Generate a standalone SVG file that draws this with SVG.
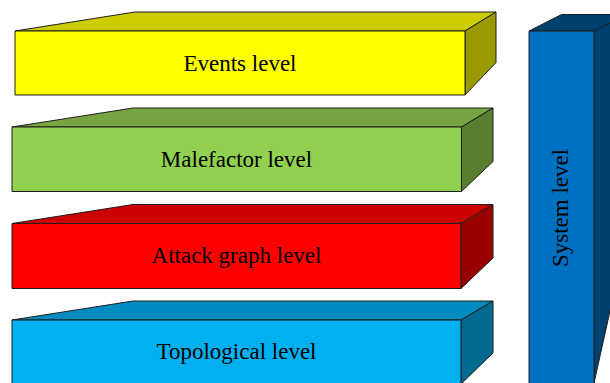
<svg xmlns="http://www.w3.org/2000/svg" width="610" height="383" viewBox="0 0 610 383">
  <style>
    .edge { stroke: #1e1e1e; stroke-width: 1; stroke-linejoin: round; }
    .label { font-family: "Liberation Serif", "Times New Roman", serif; font-size: 23px; fill: #000; text-anchor: middle; }
  </style>
  <rect width="610" height="383" fill="#ffffff"/>

  <!-- Events level -->
  <g id="events">
    <polygon class="edge" points="15,31 135,12 496,12 465,31" fill="#CCCC00"/>
    <polygon class="edge" points="465,31 496,12 496,62.5 465,95" fill="#999900"/>
    <rect class="edge" x="15" y="31" width="450" height="64" fill="#FFFF00"/>
    <text class="label" x="240" y="70.5">Events level</text>
  </g>

  <!-- Malefactor level -->
  <g id="malefactor">
    <polygon class="edge" points="12,127 133,108 493,108 461.5,127" fill="#77A543"/>
    <polygon class="edge" points="461.5,127 493,108 493,161.5 461.5,191.5" fill="#5A7D30"/>
    <rect class="edge" x="12" y="127" width="449.5" height="64.5" fill="#92D050"/>
    <text class="label" x="236.5" y="166.5">Malefactor level</text>
  </g>

  <!-- Attack graph level -->
  <g id="attack-graph">
    <polygon class="edge" points="12,223.5 133,204.5 493,204.5 461,223.5" fill="#CC0000"/>
    <polygon class="edge" points="461,223.5 493,204.5 493,258 461,288.5" fill="#990000"/>
    <rect class="edge" x="12" y="223.5" width="449" height="65" fill="#FF0000"/>
    <text class="label" x="236.5" y="263.3">Attack graph level</text>
  </g>

  <!-- Topological level -->
  <g id="topological">
    <polygon class="edge" points="12,320 133,301 493,301 461,320" fill="#008CC0"/>
    <polygon class="edge" points="461,320 493,301 493,353 461,384" fill="#006A90"/>
    <rect class="edge" x="12" y="320" width="449" height="70" fill="#00B0F0"/>
    <text class="label" x="236.5" y="358.5">Topological level</text>
  </g>

  <!-- System level (upright column) -->
  <g id="system">
    <polygon class="edge" points="529,31 561.5,14.5 640,14.5 594,31" fill="#00426F"/>
    <polygon class="edge" points="594,31 640,8 640,176 594,383" fill="#00426F"/>
    <rect class="edge" x="529" y="31" width="65" height="360" fill="#0070C0"/>
    <text class="label" transform="translate(567.5,208) rotate(-90)" x="0" y="0">System level</text>
  </g>
</svg>
